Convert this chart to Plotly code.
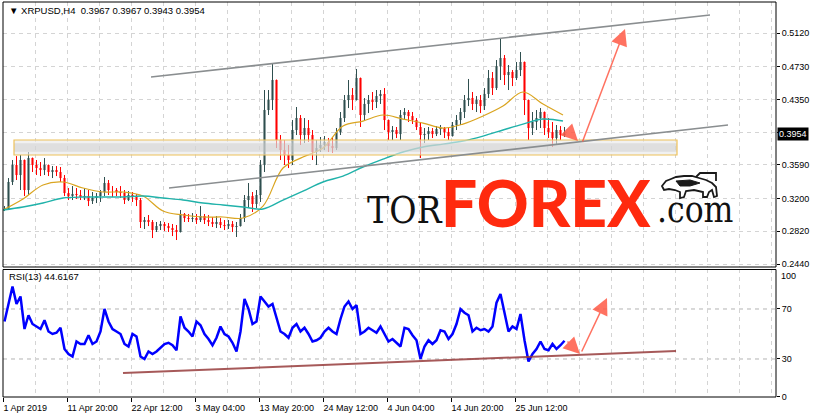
import pandas as pd
import plotly.graph_objects as go

# ---------------- data ----------------
ORIGIN = pd.Timestamp("2019-04-01 04:00")   # first H4 bar
BAR_HOURS = 4
CANDLE_BARS = 4                               # each drawn candle aggregates 4 H4 bars

high = [.3113,.3438,.3647,.3693,.3705,.3589,.3740,.3670,.3647,.3624,
        .3670,.3589,.3577,.3577,.3566,.3473,.3322,.3345,.3322,.3299,
        .3322,.3299,.3276,.3264,.3299,.3450,.3415,.3345,.3322,.3345,
        .3299,.3287,.3276,.3253,.3206,.2986,.3009,.2951,.2928,.2939,
        .2928,.2916,.2905,.2893,.3067,.3032,.3021,.3032,.3021,.3113,
        .3021,.3009,.2986,.2997,.2974,.2951,.2951,.2939,.2928,.3021,
        .3241,.3380,.3276,.3299,.3647,.4459,.4459,.4772,.4401,.3937,
        .3879,.3821,.4111,.4262,.4169,.4134,.4111,.3995,.3879,.3914,
        .3925,.3902,.3914,.4018,.4204,.4401,.4575,.4482,.4703,.4459,
        .4366,.4401,.4436,.4459,.4459,.4482,.4088,.4041,.4030,.4227,
        .4250,.4227,.4204,.4134,.4088,.4018,.4030,.4018,.4041,.4053,
        .4030,.4018,.4088,.4169,.4250,.4401,.4587,.4436,.4389,.4401,
        .4482,.4691,.4668,.4807,.5062,.4865,.4749,.4691,.4784,.4900,
        .4691,.4343,.4204,.4227,.4250,.4169,.4134,.4088,.4053,.4041,
        .4030]
low = [.3055,.3067,.3357,.3415,.3299,.3229,.3241,.3508,.3473,.3461,
       .3473,.3461,.3438,.3461,.3392,.3229,.3183,.3183,.3195,.3183,
       .3183,.3113,.3137,.3148,.3160,.3229,.3241,.3218,.3229,.3206,
       .3137,.3171,.3160,.3113,.2858,.2847,.2881,.2742,.2812,.2835,
       .2823,.2812,.2765,.2719,.2835,.2928,.2928,.2928,.2905,.2928,
       .2905,.2881,.2870,.2858,.2858,.2835,.2847,.2812,.2754,.2881,
       .2928,.3090,.3044,.3090,.3160,.3508,.4169,.4227,.3786,.3647,
       .3589,.3554,.3589,.3937,.3821,.3844,.3856,.3647,.3589,.3740,
       .3763,.3740,.3728,.3763,.3937,.4088,.4250,.4227,.4343,.4030,
       .4111,.4192,.4227,.4250,.4297,.3995,.3879,.3879,.3902,.3879,
       .4111,.4088,.4065,.3995,.3670,.3844,.3879,.3902,.3925,.3937,
       .3902,.3879,.3925,.3995,.4053,.4134,.4273,.4227,.4204,.4192,
       .4227,.4366,.4401,.4459,.4575,.4517,.4459,.4505,.4575,.4621,
       .4169,.3879,.3937,.3995,.4018,.3937,.3902,.3798,.3821,.3879,
       .3914]
close = [.3079,.3392,.3589,.3473,.3647,.3299,.3670,.3589,.3554,.3531,
         .3589,.3508,.3531,.3508,.3438,.3264,.3229,.3253,.3241,.3218,
         .3229,.3171,.3206,.3229,.3276,.3380,.3299,.3299,.3276,.3264,
         .3183,.3241,.3229,.3183,.2928,.2951,.2928,.2835,.2881,.2905,
         .2881,.2858,.2835,.2812,.3021,.2974,.2963,.2974,.2951,.2997,
         .2951,.2928,.2905,.2928,.2893,.2881,.2905,.2870,.2881,.2974,
         .3183,.3229,.3137,.3241,.3589,.4227,.4343,.4575,.3879,.3763,
         .3705,.3647,.3995,.4134,.3937,.4018,.3937,.3740,.3786,.3821,
         .3856,.3809,.3786,.3972,.4134,.4343,.4401,.4343,.4598,.4169,
         .4297,.4343,.4320,.4389,.4413,.4111,.3972,.3995,.3948,.4169,
         .4204,.4157,.4111,.4030,.3937,.3948,.3983,.3948,.4006,.4018,
         .3972,.3925,.4053,.4111,.4204,.4343,.4366,.4297,.4343,.4273,
         .4413,.4598,.4482,.4737,.4830,.4633,.4668,.4598,.4691,.4784,
         .4343,.4018,.4088,.4134,.4204,.4018,.3972,.3902,.3995,.3937,
         .3954]
first_open = .3067

rsi = [60,75,88,74,80,54,65,58,56,54,
       61,52,50,51,55,38,34,32,44,42,
       42,49,42,44,52,70,60,54,52,50,
       42,40,50,48,32,30,36,34,36,39,
       42,43,41,37,64,55,52,48,60,57,
       50,46,41,47,56,50,48,43,36,52,
       78,70,58,60,80,76,72,74,62,52,
       50,47,55,58,52,55,50,44,45,47,
       52,55,52,50,62,72,76,70,73,50,
       52,55,53,51,56,50,44,46,43,40,
       55,54,49,45,30,40,45,42,45,53,
       52,46,50,58,70,67,65,52,55,53,
       54,52,56,75,82,68,52,56,54,66,
       45,28,34,38,44,38,37,42,38,41,
       44.6167]

MA_STEP_BARS = 20
ma_fast = [.3067,.3195,.3357,.3392,.3322,.3276,.3276,.3229,.3055,.3009,
           .2986,.2986,.2974,.3113,.3554,.3682,.3786,.4041,.4099,.4169,
           .4122,.4076,.4018,.4064,.4157,.4273,.4436,.4296,.4169]
ma_slow = [.3067,.3102,.3148,.3206,.3218,.3218,.3218,.3229,.3206,.3183,
           .3148,.3125,.3102,.3079,.3183,.3287,.3392,.3461,.3566,.3658,
           .3740,.3798,.3832,.3867,.3925,.3995,.4064,.4122,.4099]

tick_bars = [0, 64, 128, 192, 256, 320, 384, 448, 512]
tick_text = ["1 Apr 2019", "11 Apr 20:00", "22 Apr 12:00", "3 May 04:00",
             "13 May 20:00", "24 May 12:00", "4 Jun 04:00", "14 Jun 20:00",
             "25 Jun 12:00"]
price_ticks = [0.5120, 0.4730, 0.4350, 0.3970, 0.3590, 0.3200, 0.2820, 0.2440]
price_tick_text = ["0.5120", "0.4730", "0.4350", "", "0.3590", "0.3200", "0.2820", "0.2440"]
rsi_ticks = [0, 30, 70]
rsi_top_label = 100
last_price = 0.3954

# hand-drawn objects: (bar index, value)
channel_upper = [(148, .4610), (707, .5329)]
channel_lower = [(166, .3322), (725, .4053)]
support_zone = [(11, .3705), (674, .3879)]
arrow_down = [(562, .4018), (575, .3867)]
arrow_up = [(579, .3844), (622, .5167)]
rsi_trend = [(120, 18.8), (673, 36.4)]
rsi_arrow_down = [(563, 45.2), (577, 34.0)]
rsi_arrow_up = [(578, 34.8), (604, 78.8)]

# ---------------- helpers ----------------
def bar_time(b):
    return ORIGIN + pd.Timedelta(hours=BAR_HOURS * b)

n = len(close)
cx = [bar_time(CANDLE_BARS * k + 1.5) for k in range(n)]
opn = [first_open] + close[:-1]
ma_x = [bar_time(MA_STEP_BARS * j) for j in range(len(ma_fast))]

FONT = "Liberation Sans, Arial, sans-serif"
GRID = "#D4D4D4"

fig = go.Figure()
fig.add_trace(go.Candlestick(
    x=cx, open=opn, high=high, low=low, close=close,
    increasing=dict(line=dict(color="#2F4F4F", width=1), fillcolor="#2F4F4F"),
    decreasing=dict(line=dict(color="#FF0000", width=1), fillcolor="#FF0000"),
    whiskerwidth=0, xaxis="x", yaxis="y", showlegend=False, hoverinfo="skip"))
fig.add_trace(go.Scatter(x=ma_x, y=ma_fast, mode="lines",
                         line=dict(color="#DAA520", width=1.2, shape="spline"),
                         xaxis="x", yaxis="y", showlegend=False))
fig.add_trace(go.Scatter(x=ma_x, y=ma_slow, mode="lines",
                         line=dict(color="#20B2AA", width=1.4, shape="spline"),
                         xaxis="x", yaxis="y", showlegend=False))
fig.add_trace(go.Scatter(x=cx, y=rsi, mode="lines",
                         line=dict(color="#0000FF", width=2.5),
                         xaxis="x2", yaxis="y2", showlegend=False))

x_range = [bar_time(0), bar_time(773)]
major = [bar_time(b) for b in tick_bars]
minor_cfg = dict(dtick=32 * BAR_HOURS * 3600 * 1000, tick0=bar_time(0),
                 showgrid=True, gridcolor=GRID, griddash="4px,4px", ticklen=0)

MAIN_BOTTOM = 0.3291
RSI_TOP = 0.3228

fig.update_layout(
    width=815, height=419,
    margin=dict(l=3, r=39, t=2, b=22),
    paper_bgcolor="white", plot_bgcolor="white",
    font=dict(family=FONT, size=9, color="black"),
    boxgap=0.62,
    xaxis=dict(domain=[0, 1], anchor="y", range=x_range, type="date",
               tickvals=major, showticklabels=False, ticks="",
               showgrid=True, gridcolor=GRID, griddash="4px,4px",
               minor=minor_cfg, rangeslider=dict(visible=False),
               showline=False, zeroline=False, matches="x2"),
    yaxis=dict(domain=[MAIN_BOTTOM, 1], anchor="x", side="right",
               range=[0.2406, 0.5480], tickvals=price_ticks, ticktext=price_tick_text,
               ticks="outside", ticklen=3, tickcolor="black",
               showgrid=True, gridcolor=GRID, griddash="4px,4px",
               showline=False, zeroline=False),
    xaxis2=dict(domain=[0, 1], anchor="y2", range=x_range, type="date",
                tickvals=major, ticktext=tick_text, ticklabelposition="outside right",
                ticklabelstandoff=2,
                ticks="outside", ticklen=4, tickcolor="black",
                showgrid=True, gridcolor=GRID, griddash="4px,4px",
                minor=minor_cfg, showline=False, zeroline=False),
    yaxis2=dict(domain=[0, RSI_TOP], anchor="x2", side="right",
                range=[-0.4, 101.6], tickvals=rsi_ticks,
                ticks="outside", ticklen=3, tickcolor="black",
                showgrid=False, showline=False, zeroline=False),
)

# RSI levels
for lvl in (70, 30):
    fig.add_shape(type="line", xref="x2", yref="y2", x0=x_range[0], x1=x_range[1],
                  y0=lvl, y1=lvl, line=dict(color="#B4B4B4", width=1, dash="4px,4px"),
                  layer="below")

# support zone (drawn over candles, semi-transparent)
(z0b, z0p), (z1b, z1p) = support_zone
fig.add_shape(type="rect", xref="x", yref="y", x0=bar_time(z0b), x1=bar_time(z1b),
              y0=z0p, y1=z1p, fillcolor="rgba(232,232,232,0.62)",
              line=dict(width=0), layer="above")
mid_pad = (z1p - z0p) * 0.22
fig.add_shape(type="rect", xref="x", yref="y", x0=bar_time(z0b), x1=bar_time(z1b),
              y0=z0p + mid_pad, y1=z1p - mid_pad, fillcolor="rgba(190,190,190,0.35)",
              line=dict(width=0), layer="above")
fig.add_shape(type="rect", xref="x", yref="y", x0=bar_time(z0b), x1=bar_time(z1b),
              y0=z0p, y1=z1p, fillcolor="rgba(0,0,0,0)",
              line=dict(color="#EEC25A", width=1.2), layer="above")

# channel lines
for (b0, p0), (b1, p1) in (channel_upper, channel_lower):
    fig.add_shape(type="line", xref="x", yref="y", x0=bar_time(b0), y0=p0,
                  x1=bar_time(b1), y1=p1, line=dict(color="#8A8E90", width=1.6),
                  layer="above")

# RSI trend line
(rb0, rv0), (rb1, rv1) = rsi_trend
fig.add_shape(type="line", xref="x2", yref="y2", x0=bar_time(rb0), y0=rv0,
              x1=bar_time(rb1), y1=rv1, line=dict(color="rgba(150,60,60,0.85)", width=2),
              layer="above")

# panel borders
fig.add_shape(type="rect", xref="paper", yref="paper", x0=0, x1=1, y0=MAIN_BOTTOM, y1=1,
              line=dict(color="black", width=1), layer="above")
fig.add_shape(type="rect", xref="paper", yref="paper", x0=0, x1=1, y0=0, y1=RSI_TOP,
              line=dict(color="black", width=1), layer="above")

ARROW = "rgba(255,90,70,0.85)"
def add_arrow(seg, xr, yr):
    (b0, v0), (b1, v1) = seg
    fig.add_annotation(x=bar_time(b1), y=v1, ax=bar_time(b0), ay=v0,
                       xref=xr, yref=yr, axref=xr, ayref=yr, text="",
                       showarrow=True, arrowhead=2, arrowsize=2.2, arrowwidth=1.5,
                       arrowcolor=ARROW, standoff=0)

add_arrow(arrow_down, "x", "y")
add_arrow(arrow_up, "x", "y")
add_arrow(rsi_arrow_down, "x2", "y2")
add_arrow(rsi_arrow_up, "x2", "y2")

# texts
fig.add_annotation(x=0.005, y=0.9797, xref="paper", yref="paper", xanchor="left",
                   yanchor="middle", showarrow=False,
                   text="▼ XRPUSD,H4  0.3967 0.3967 0.3943 0.3954",
                   font=dict(family=FONT, size=9.5, color="black"))
fig.add_annotation(x=0.005, y=0.3038, xref="paper", yref="paper", xanchor="left",
                   yanchor="middle", showarrow=False, text="RSI(13) 44.6167",
                   font=dict(family=FONT, size=9.5, color="black"))
fig.add_annotation(x=1, y=last_price, xref="paper", yref="y", xanchor="left",
                   yanchor="middle", xshift=1, showarrow=False,
                   text=f"{last_price:.4f}", bgcolor="black", borderpad=1,
                   font=dict(family=FONT, size=9, color="white"))
# RSI "100" label (kept inside the panel, as in the terminal)
fig.add_annotation(x=1, y=0.3063, xref="paper", yref="paper", xanchor="left",
                   yanchor="middle", xshift=3, showarrow=False, text=str(rsi_top_label),
                   font=dict(family=FONT, size=9, color="black"))

# watermark
SERIF = "DejaVu Serif Condensed, DejaVu Serif, serif"
fig.add_annotation(x=0.4683, y=0.4734, xref="paper", yref="paper", xanchor="left",
                   yanchor="middle", showarrow=False, text="TOR",
                   font=dict(family=SERIF, size=37, color="#111111"))
fig.add_annotation(x=0.7025, y=0.4930, xref="paper", yref="paper", xanchor="center",
                   yanchor="middle", showarrow=False, text="FOREX",
                   font=dict(family="Lato, Roboto, sans-serif", size=64, color="#FF2A0E",
                             weight=900))
fig.add_annotation(x=0.8434, y=0.4734, xref="paper", yref="paper", xanchor="left",
                   yanchor="middle", showarrow=False, text=".com",
                   font=dict(family=SERIF, size=35, color="#111111"))

# small bull emblem of the watermark (decorative outline, paper coordinates)
def px_path(points, close_path=True):
    W, H, L, B = 773.0, 395.0, 3.0, 397.0
    segs = [f"{(x - L) / W:.5f},{(B - y) / H:.5f}" for x, y in points]
    return "M" + " L".join(segs) + (" Z" if close_path else "")

bull_body = [(662, 186), (666, 181), (671, 179), (676, 177), (684, 176), (692, 176),
             (699, 178), (706, 180), (712, 183), (716, 187), (717, 196), (714, 197),
             (712, 190), (709, 192), (707, 197), (703, 197), (703, 192), (694, 190),
             (686, 191), (684, 197), (680, 198), (680, 192), (675, 190), (669, 189),
             (664, 190)]
fig.add_shape(type="path", xref="paper", yref="paper", path=px_path(bull_body),
              fillcolor="rgba(255,255,255,1)", line=dict(color="#1A1A1A", width=1.8),
              layer="above")
bull_horn = [(696, 177), (700, 173), (716, 173), (716, 181)]
fig.add_shape(type="path", xref="paper", yref="paper", path=px_path(bull_horn, False),
              line=dict(color="#1A1A1A", width=1.8), layer="above")
bull_shade = [(676, 181), (690, 180), (700, 183), (690, 186), (680, 186)]
fig.add_shape(type="path", xref="paper", yref="paper", path=px_path(bull_shade),
              fillcolor="#1A1A1A", line=dict(color="#1A1A1A", width=1), layer="above")

fig.write_html("out.html", config={"displayModeBar": False},
               post_script="document.body.style.margin='0';")
